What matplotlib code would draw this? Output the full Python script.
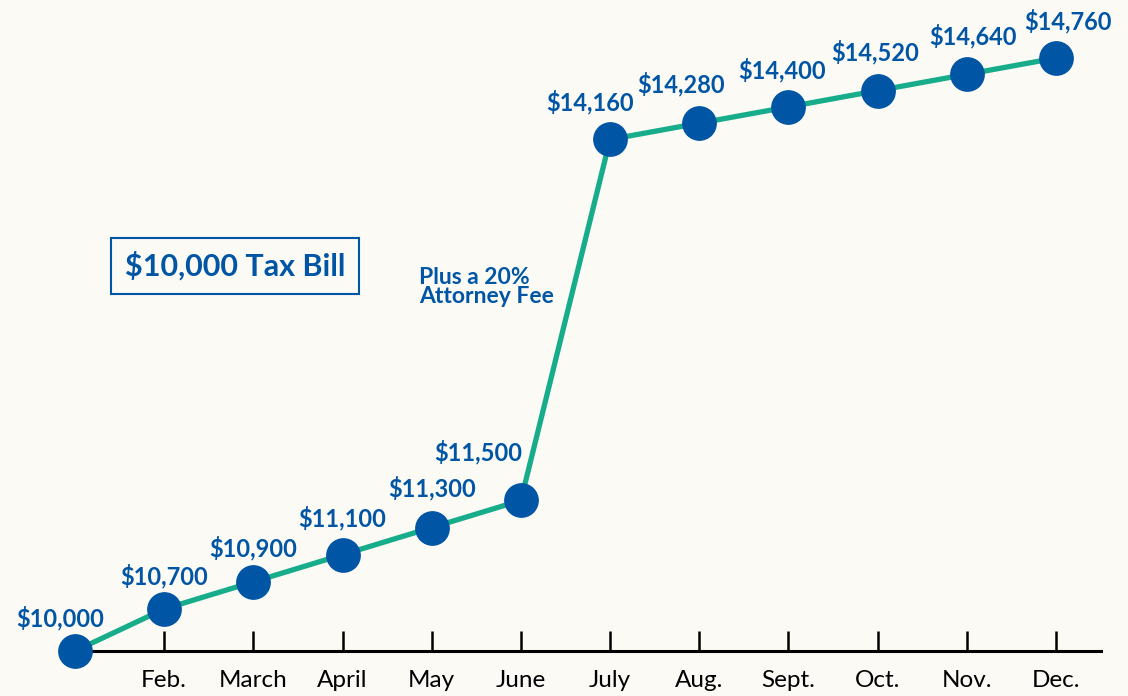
import numpy as np
import matplotlib.pyplot as plt

months = ["Feb.", "March", "April", "May", "June", "July",
          "Aug.", "Sept.", "Oct.", "Nov.", "Dec."]
amounts = [10000, 10700, 10900, 11100, 11300, 11500,
           14160, 14280, 14400, 14520, 14640, 14760]
labels = ["$" + format(a, ",") for a in amounts]

# where each value label sits relative to its dot (pixels)
dx = [-15, 0, 0, 0, 0, -43, -20, -18, -6, -2, 6, 12]
dy = [33, 33, 34, 37, 39, 48, 37, 39, 37, 38, 38, 37]

BLUE = "#0055a5"
GREEN = "#17ad8b"
BG = "#fcfaf4"

plt.rcParams['font.family'] = ['Lato', 'DejaVu Sans']


# the original squeezes the first step (Jan -> Feb), so use a broken scale
def fwd(y):
    y = np.asarray(y, dtype=float)
    return np.where(y < 10700, 10700 - (10700 - y) * 0.442, y)


def inv(t):
    t = np.asarray(t, dtype=float)
    return np.where(t < 10700, 10700 - (10700 - t) / 0.442, t)


fig = plt.figure(figsize=(11.28, 6.96), dpi=100, facecolor=BG)
ax = fig.add_axes([0, 0, 1, 1], facecolor=BG)
ax.set_yscale('function', functions=(fwd, inv))

x = np.arange(len(amounts))
ax.plot(x, amounts, color=GREEN, lw=3.8, zorder=2)
ax.plot(x, amounts, 'o', ms=24, color=BLUE, zorder=3)

for xi, yi, lab, ox, oy in zip(x, amounts, labels, dx, dy):
    ax.annotate(lab, (xi, yi), xytext=(ox, oy), textcoords='offset pixels',
                ha='center', va='center', color=BLUE, fontsize=17,
                fontweight='bold')

ax.set_xlim(-0.841, 11.808)
ax.set_ylim(9249.5, 15187.8)

for s in ['left', 'right', 'top']:
    ax.spines[s].set_visible(False)
ax.spines['bottom'].set_position(('data', amounts[0]))
ax.spines['bottom'].set_bounds(0, 11.5)
ax.spines['bottom'].set_linewidth(2.2)
ax.set_yticks([])
ax.set_xticks(x[1:])
ax.set_xticklabels(months)
ax.tick_params(axis='x', direction='in', length=14.5, width=1.8,
               pad=14, labelsize=17.5, color='black')

fig.text(235 / 1128, 1 - 266 / 696, "$10,000 Tax Bill", ha='center',
         va='center', color=BLUE, fontsize=22, fontweight='bold',
         bbox=dict(boxstyle='square,pad=0.45', fc='none', ec=BLUE, lw=1.5))
fig.text(419 / 1128, 1 - 287 / 696, "Plus a 20%\nAttorney Fee", ha='left',
         va='center', color=BLUE, fontsize=16.5, fontweight='bold',
         linespacing=0.92)

fig.savefig("out.png", dpi=100, facecolor=BG)
